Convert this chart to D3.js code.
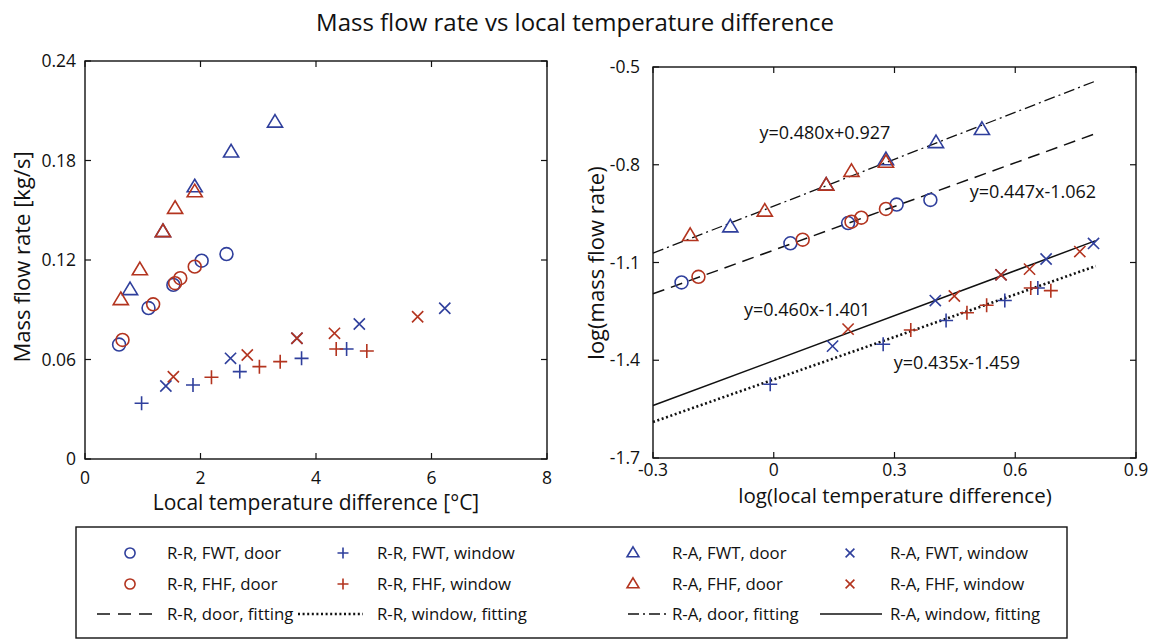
<!DOCTYPE html>
<html>
<head>
<meta charset="utf-8">
<script src="https://cdn.jsdelivr.net/npm/d3@7"></script>
<style>
  body { margin: 0; background: #fff; }
  text { font-family: "Open Sans", sans-serif; fill: #111; }
</style>
</head>
<body>
<svg id="chart" width="1150" height="639"></svg>
<script>
// ---- data ----
const titleText = 'Mass flow rate vs local temperature difference';

const leftXTicks = [0, 2, 4, 6, 8];
const leftYTicks = [0, 0.06, 0.12, 0.18, 0.24];
const rightXTicks = [-0.3, 0, 0.3, 0.6, 0.9];
const rightYTicks = [-1.7, -1.4, -1.1, -0.8, -0.5];

// [temperature difference (°C), mass flow rate (kg/s)]
const rrFwtDoor = [[0.59, 0.069], [1.10, 0.091], [1.53, 0.105], [2.02, 0.1196], [2.45, 0.1236]];
const rrFhfDoor = [[0.65, 0.0718], [1.18, 0.0933], [1.56, 0.106], [1.65, 0.109], [1.90, 0.116]];
const rrFwtWindow = [[0.98, 0.0336], [1.87, 0.0446], [2.68, 0.0527], [3.75, 0.0607], [4.53, 0.0663]];
const rrFhfWindow = [[2.19, 0.0493], [3.02, 0.0557], [3.38, 0.0587], [4.35, 0.0663], [4.88, 0.0651]];
const raFwtDoor = [[0.78, 0.102], [1.35, 0.137], [1.90, 0.164], [2.53, 0.185], [3.29, 0.203]];
const raFhfDoor = [[0.62, 0.096], [0.95, 0.114], [1.35, 0.137], [1.56, 0.151], [1.90, 0.161]];
const raFwtWindow = [[1.40, 0.044], [2.52, 0.0607], [3.67, 0.0728], [4.75, 0.0814], [6.23, 0.0909]];
const raFhfWindow = [[1.53, 0.0496], [2.81, 0.0627], [3.67, 0.0728], [4.32, 0.0758], [5.76, 0.0858]];

// log-log fits: log(m) = slope * log(dT) + intercept
const fitNames = ['R-R, door, fitting', 'R-R, window, fitting', 'R-A, door, fitting', 'R-A, window, fitting'];
const fitSlopes = [0.447, 0.435, 0.480, 0.460];
const fitIntercepts = [-1.062, -1.459, -0.927, -1.401];
const fitLabels = ['y=0.447x-1.062', 'y=0.435x-1.459', 'y=0.480x+0.927', 'y=0.460x-1.401'];
const fitRange = [-0.3, 0.8];

// ---- styling ----
const blue = '#2f3f9c';
const red = '#b3341f';

const seriesList = [
  { name: 'R-R, FWT, door', data: rrFwtDoor, shape: 'circle', color: blue },
  { name: 'R-R, FHF, door', data: rrFhfDoor, shape: 'circle', color: red },
  { name: 'R-R, FWT, window', data: rrFwtWindow, shape: 'plus', color: blue },
  { name: 'R-R, FHF, window', data: rrFhfWindow, shape: 'plus', color: red },
  { name: 'R-A, FWT, door', data: raFwtDoor, shape: 'triangle', color: blue },
  { name: 'R-A, FHF, door', data: raFhfDoor, shape: 'triangle', color: red },
  { name: 'R-A, FWT, window', data: raFwtWindow, shape: 'cross', color: blue },
  { name: 'R-A, FHF, window', data: raFhfWindow, shape: 'cross', color: red }
];

const fitDash = ['12,7', '2,2.6', '11,4,2,4', null];
const fitWidth = [1.5, 2.6, 1.3, 1.5];

const svg = d3.select('#chart');

svg.append('text')
  .attr('x', 575).attr('y', 31)
  .attr('text-anchor', 'middle')
  .attr('font-size', '24px')
  .text(titleText);

// draw one marker shape centred at 0,0
const drawMarker = (g, shape, color, s) => {
  if (shape === 'circle') {
    g.append('circle').attr('r', s * 0.92).attr('fill', 'none')
      .attr('stroke', color).attr('stroke-width', 1.6);
  } else if (shape === 'triangle') {
    const h = s * 1.8;
    g.append('path')
      .attr('d', `M0,${-h * 0.62}L${h * 0.6},${h * 0.38}L${-h * 0.6},${h * 0.38}Z`)
      .attr('fill', 'none').attr('stroke', color).attr('stroke-width', 1.6)
      .attr('stroke-linejoin', 'miter');
  } else if (shape === 'plus') {
    g.append('path').attr('d', `M${-s},0H${s}M0,${-s}V${s}`)
      .attr('stroke', color).attr('stroke-width', 1.6);
  } else {
    const a = s * 0.8;
    g.append('path').attr('d', `M${-a},${-a}L${a},${a}M${-a},${a}L${a},${-a}`)
      .attr('stroke', color).attr('stroke-width', 1.6);
  }
};

// MATLAB-style box with inward ticks on all four sides
const drawFrame = (x, y, xTicks, yTicks, fmt, xLabelDy, yLabelDx) => {
  const [x0, x1] = x.range();
  const [y0, y1] = y.range();
  const g = svg.append('g');
  g.append('rect')
    .attr('x', x0).attr('y', y1)
    .attr('width', x1 - x0).attr('height', y0 - y1)
    .attr('fill', 'none').attr('stroke', '#111').attr('stroke-width', 1.4);

  const tl = 6;
  xTicks.forEach(t => {
    g.append('line').attr('x1', x(t)).attr('x2', x(t)).attr('y1', y0).attr('y2', y0 - tl)
      .attr('stroke', '#111').attr('stroke-width', 1.2);
    g.append('line').attr('x1', x(t)).attr('x2', x(t)).attr('y1', y1).attr('y2', y1 + tl)
      .attr('stroke', '#111').attr('stroke-width', 1.2);
    g.append('text').attr('x', x(t)).attr('y', y0 + xLabelDy)
      .attr('text-anchor', 'middle').attr('font-size', '17.5px').text(fmt(t));
  });
  yTicks.forEach(t => {
    g.append('line').attr('x1', x0).attr('x2', x0 + tl).attr('y1', y(t)).attr('y2', y(t))
      .attr('stroke', '#111').attr('stroke-width', 1.2);
    g.append('line').attr('x1', x1).attr('x2', x1 - tl).attr('y1', y(t)).attr('y2', y(t))
      .attr('stroke', '#111').attr('stroke-width', 1.2);
    g.append('text').attr('x', x0 - yLabelDx).attr('y', y(t) + 6)
      .attr('text-anchor', 'end').attr('font-size', '17.5px').text(fmt(t));
  });
};

const fmtTick = t => String(+t.toFixed(2));

// ---- left panel: linear axes ----
const xL = d3.scaleLinear().domain([0, 8]).range([85, 547]);
const yL = d3.scaleLinear().domain([0, 0.24]).range([459, 61]);
drawFrame(xL, yL, leftXTicks, leftYTicks, fmtTick, 25, 9);

svg.append('text')
  .attr('x', 316).attr('y', 510)
  .attr('text-anchor', 'middle').attr('font-size', '21px')
  .text('Local temperature difference [°C]');
svg.append('text')
  .attr('transform', 'translate(30,257) rotate(-90)')
  .attr('text-anchor', 'middle').attr('font-size', '22px')
  .text('Mass flow rate [kg/s]');

// ---- right panel: log10 of the same measurements ----
const xR = d3.scaleLinear().domain([-0.3, 0.9]).range([653, 1136]);
const yR = d3.scaleLinear().domain([-1.7, -0.5]).range([458, 67]);
drawFrame(xR, yR, rightXTicks, rightYTicks, fmtTick, 18, 13);

svg.append('text')
  .attr('x', 895).attr('y', 503)
  .attr('text-anchor', 'middle').attr('font-size', '20.5px')
  .text('log(local temperature difference)');
svg.append('text')
  .attr('transform', 'translate(604,263) rotate(-90)')
  .attr('text-anchor', 'middle').attr('font-size', '22px')
  .text('log(mass flow rate)');

// fitted lines
const fitLine = d3.line().x(d => xR(d[0])).y(d => yR(d[1]));
fitSlopes.forEach((m, i) => {
  const pts = fitRange.map(v => [v, m * v + fitIntercepts[i]]);
  svg.append('path')
    .attr('class', 'fit-line')
    .attr('d', fitLine(pts))
    .attr('fill', 'none')
    .attr('stroke', '#111')
    .attr('stroke-width', fitWidth[i])
    .attr('stroke-dasharray', fitDash[i]);
});

// equation labels (anchor positions in log units)
const fitLabelPos = [[0.644, -0.902], [0.455, -1.427], [0.127, -0.721], [0.083, -1.264]];
fitLabels.forEach((lab, i) => {
  svg.append('text')
    .attr('x', xR(fitLabelPos[i][0])).attr('y', yR(fitLabelPos[i][1]))
    .attr('text-anchor', 'middle').attr('font-size', '18px')
    .text(lab);
});

// markers on both panels
seriesList.forEach(s => {
  s.data.forEach(d => {
    const gl = svg.append('g').attr('transform', `translate(${xL(d[0])},${yL(d[1])})`);
    drawMarker(gl, s.shape, s.color, 7);
    const gr = svg.append('g')
      .attr('transform', `translate(${xR(Math.log10(d[0]))},${yR(Math.log10(d[1]))})`);
    drawMarker(gr, s.shape, s.color, 7);
  });
});

// ---- legend ----
const legend = svg.append('g');
legend.append('rect')
  .attr('x', 76).attr('y', 527).attr('width', 991).attr('height', 111)
  .attr('fill', '#fff').attr('stroke', '#111').attr('stroke-width', 1.4);

const legRows = [553, 584, 614];
const legSymX = [130, 343, 633, 850];
const legTextX = [167, 377, 672, 890];
const legLineX = [[97, 153], [298, 363], [628, 670], [820, 882]];

seriesList.forEach((s, i) => {
  const col = Math.floor(i / 2);
  const row = i % 2;
  const g = legend.append('g').attr('transform', `translate(${legSymX[col]},${legRows[row]})`);
  drawMarker(g, s.shape, s.color, 5.5);
  legend.append('text')
    .attr('x', legTextX[col]).attr('y', legRows[row] + 6)
    .attr('font-size', '16.8px').text(s.name);
});

fitNames.forEach((name, i) => {
  const ly = legRows[2];
  legend.append('line')
    .attr('x1', legLineX[i][0]).attr('x2', legLineX[i][1])
    .attr('y1', ly).attr('y2', ly)
    .attr('stroke', '#111')
    .attr('stroke-width', i === 1 ? 2.4 : 1.4)
    .attr('stroke-dasharray', i === 0 ? '13,8' : fitDash[i]);
  legend.append('text')
    .attr('x', legTextX[i]).attr('y', ly + 6)
    .attr('font-size', '16.8px').text(name);
});
</script>
</body>
</html>
